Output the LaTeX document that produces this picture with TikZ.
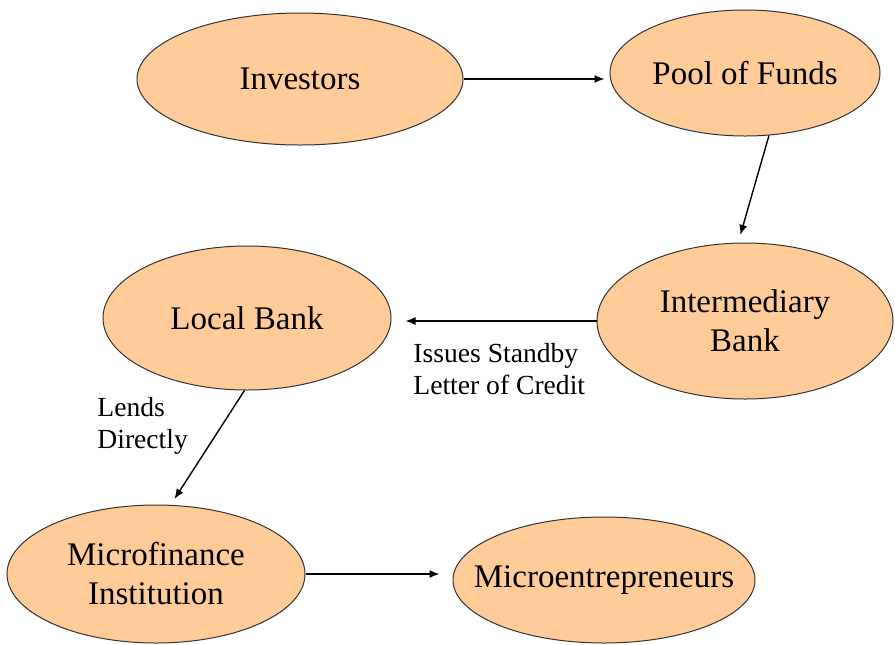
\documentclass[tikz,border=0pt]{standalone}
\usepackage{fontspec}
\setmainfont{Liberation Serif}
\usetikzlibrary{shapes.geometric,arrows.meta}
\definecolor{peach}{RGB}{255,204,153}

\begin{document}
\begin{tikzpicture}[x=0.5pt, y=-0.5pt,
    blob/.style={ellipse, draw=black!80, line width=0.5pt, fill=peach, inner ysep=0pt,
        inner xsep=-20pt, align=center, font=\fontsize{16.5}{19.5}\selectfont},
    arr/.style={-{Latex[length=5pt,width=4pt]}, line width=0.7pt},
    note/.style={inner sep=0pt, align=left, font=\fontsize{13.8}{16}\selectfont}]
    \useasboundingbox (0,0) rectangle (895,644);

    % Entities
    \node [blob, minimum width=163pt, minimum height=66pt] (inv) at (300,79) {Investors};
    \node [blob, minimum width=135pt, minimum height=63pt] (pool) at (745,73) {Pool of Funds};
    \node [blob, minimum width=148pt, minimum height=78pt] (inter) at (745,321) {Intermediary\\Bank};
    \node [blob, minimum width=144pt, minimum height=72pt] (local) at (247,318) {Local Bank};
    \node [blob, minimum width=149pt, minimum height=69pt] (mfi) at (156,574) {Microfinance\\Institution};
    \node [blob, minimum width=151pt, minimum height=63pt] (ent) at (604,580) {Microentrepreneurs};

    % Flows
    \draw [arr, shorten >=2.5pt] (inv.east) -- (inv.east -| pool.west);
    \draw [arr, shorten >=4pt] (pool.-69) -- (inter.95);
    \draw [arr, shorten >=7pt] (inter.west) -- (inter.west -| local.east);
    \draw [arr, shorten >=3.5pt] (local.-92) -- (mfi.78);
    \draw [arr, shorten >=6.5pt] (mfi.east) -- (mfi.east -| ent.west);

    % Labels
    \node [note, anchor=west] (sblc) at (413,369) {Issues Standby\\Letter of Credit};
    \node [note, anchor=west] (lend) at (97,426) {Lends\\Directly};
\end{tikzpicture}
\end{document}
